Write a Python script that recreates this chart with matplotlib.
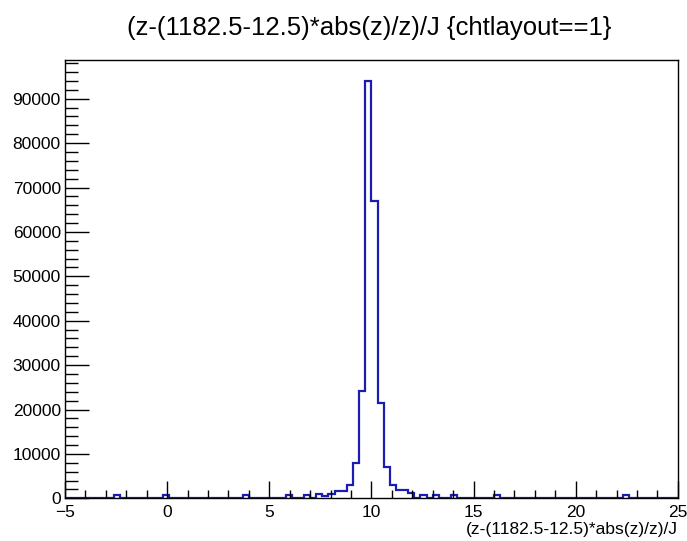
import numpy as np
import matplotlib.pyplot as plt
from matplotlib.ticker import MultipleLocator

plt.rcParams['font.family'] = ['Liberation Sans', 'DejaVu Sans']

# histogram: 100 bins from -5 to 25, only non-empty bins listed (lower edge, count)
x_min, x_max, n_bins = -5.0, 25.0, 100
bin_low = [-2.6, -0.2, 3.7, 5.8, 6.7, 7.3, 7.6, 7.9, 8.2, 8.5, 8.8, 9.1, 9.4,
           9.7, 10.0, 10.3, 10.6, 10.9, 11.2, 11.5, 11.8, 12.4, 13.0, 13.9,
           16.0, 22.3]
bin_count = [800, 800, 700, 700, 800, 900, 600, 900, 1700, 1700, 3000, 7900,
             24100, 94000, 66900, 21400, 6950, 3000, 1850, 1850, 1100, 750,
             800, 800, 750, 700]

title = "(z-(1182.5-12.5)*abs(z)/z)/J {chtlayout==1}"
xlabel = "(z-(1182.5-12.5)*abs(z)/z)/J"

edges = np.linspace(x_min, x_max, n_bins + 1)
counts = np.zeros(n_bins)
for lo, c in zip(bin_low, bin_count):
    idx = int(round((lo - x_min) / (x_max - x_min) * n_bins))
    counts[idx] = c

fig = plt.figure(figsize=(6.87, 5.41), dpi=100)
ax = fig.add_axes([0.0946, 0.0789, 0.892, 0.810])

ax.stairs(counts, edges, color='#1c1cb0', linewidth=1.6, baseline=0)

ax.set_xlim(x_min, x_max)
ax.set_ylim(0, 1.05 * max(bin_count))

ax.xaxis.set_major_locator(MultipleLocator(5))
ax.xaxis.set_minor_locator(MultipleLocator(1))
ax.yaxis.set_major_locator(MultipleLocator(10000))
ax.yaxis.set_minor_locator(MultipleLocator(2000))

ax.tick_params(axis='x', which='major', direction='in', length=12, width=1, labelsize=12.5, pad=5)
ax.tick_params(axis='x', which='minor', direction='in', length=6, width=1)
ax.tick_params(axis='y', which='major', direction='in', length=17, width=1, labelsize=12.5, pad=3)
ax.tick_params(axis='y', which='minor', direction='in', length=9, width=1)

for sp in ax.spines.values():
    sp.set_linewidth(1)

fig.text(0.538, 0.948, title, ha='center', va='center', fontsize=18.5)
ax.set_xlabel(xlabel, fontsize=12.5, loc='right', labelpad=1)

plt.savefig('out.png', dpi=100)
